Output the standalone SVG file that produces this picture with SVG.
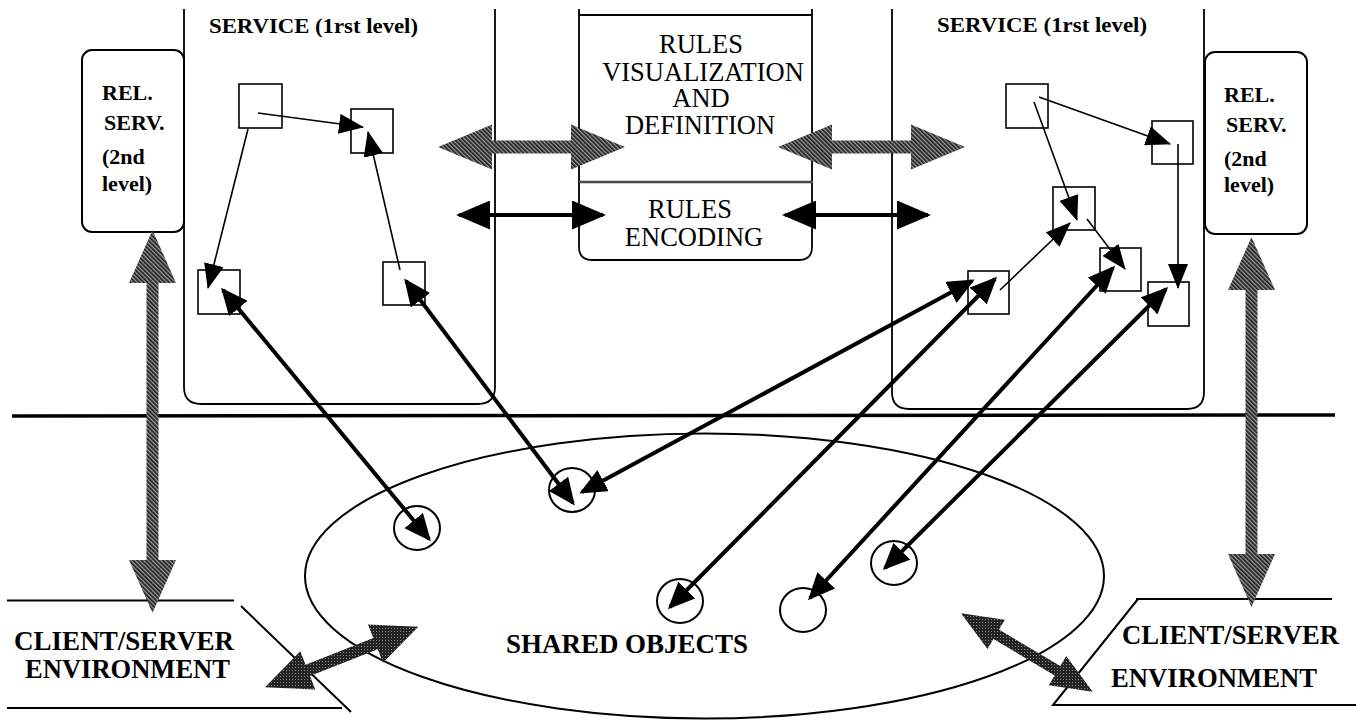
<svg xmlns="http://www.w3.org/2000/svg" width="1356" height="723" viewBox="0 0 1356 723">
  <defs>
    <style>
      .box { fill: none; stroke: #000; stroke-width: 1.8; }
      .rel { fill: #fff; stroke: #000; stroke-width: 2; }
      .sq { fill: #fff; stroke: #000; stroke-width: 1.6; }
      .obj { fill: none; stroke: #000; stroke-width: 2; }
      .rule { fill: none; stroke: #000; stroke-width: 2; }
      .thin { fill: none; stroke: #000; stroke-width: 1.6; marker-end: url(#ahS); }
      .thick { fill: none; stroke: #000; stroke-width: 4; marker-start: url(#ahL); marker-end: url(#ahL); }
      .mid { fill: none; stroke: #000; stroke-width: 4; marker-start: url(#ahM); marker-end: url(#ahM); }
      .gray { fill: url(#hatch); stroke: none; }
      .dark { fill: url(#hatchDark); stroke: none; }
      .bold { font-family: "Liberation Serif", "Times New Roman", serif; font-weight: bold; fill: #000; }
      .reg { font-family: "Liberation Serif", "Times New Roman", serif; fill: #000; }
    </style>
    <pattern id="hatch" width="3" height="3" patternUnits="userSpaceOnUse" patternTransform="rotate(-45)">
      <rect width="3" height="3" fill="#9c9c9c"/>
      <rect width="1.7" height="3" fill="#1e1e1e"/>
    </pattern>
    <pattern id="hatchDark" width="3" height="3" patternUnits="userSpaceOnUse">
      <rect width="3" height="3" fill="#232323"/>
      <rect x="1" y="1" width="1" height="1" fill="#8a8a8a"/>
    </pattern>
    <marker id="ahS" viewBox="0 -10 25 20" refX="24" refY="0" markerWidth="25" markerHeight="20" markerUnits="userSpaceOnUse" orient="auto">
      <path d="M0,-10 L25,0 L0,10 z" fill="#000"/>
    </marker>
    <marker id="ahL" viewBox="0 -12 27 24" refX="24" refY="0" markerWidth="27" markerHeight="24" markerUnits="userSpaceOnUse" orient="auto-start-reverse">
      <path d="M0,-12 L27,0 L0,12 z" fill="#000"/>
    </marker>
    <marker id="ahM" viewBox="0 -14.5 34 29" refX="31" refY="0" markerWidth="34" markerHeight="29" markerUnits="userSpaceOnUse" orient="auto-start-reverse">
      <path d="M0,-14.5 L34,0 L0,14.5 z" fill="#000"/>
    </marker>
  </defs>

  <rect width="1356" height="723" fill="#fff"/>

  <!-- first-level service, left -->
  <g id="service-left">
    <path class="box" d="M184,9 V387 Q184,404 201,404 H478 Q495,404 495,387 V9"/>
    <text class="bold" x="209" y="33" font-size="22" textLength="209" lengthAdjust="spacingAndGlyphs">SERVICE (1rst level)</text>
  </g>

  <!-- first-level service, right -->
  <g id="service-right">
    <path class="box" d="M892,9 V392 Q892,409 909,409 H1187 Q1204,409 1204,392 V9"/>
    <text class="bold" x="937" y="32" font-size="22" textLength="210" lengthAdjust="spacingAndGlyphs">SERVICE (1rst level)</text>
  </g>

  <!-- rules box -->
  <g id="rules">
    <path class="box" d="M579,9 V247 Q579,260 592,260 H799 Q812,260 812,247 V9"/>
    <line x1="579" y1="15" x2="812" y2="15" stroke="#000" stroke-width="1.8"/>
    <line x1="579" y1="182" x2="813" y2="182" stroke="#4a4a4a" stroke-width="2.6"/>
    <g class="reg" font-size="26.5" text-anchor="middle">
      <text x="701" y="53">RULES</text>
      <text x="703" y="81">VISUALIZATION</text>
      <text x="701" y="107">AND</text>
      <text x="700" y="134">DEFINITION</text>
      <text x="690" y="218">RULES</text>
      <text x="694" y="246">ENCODING</text>
    </g>
  </g>

  <!-- second-level related services -->
  <g id="rel-left">
    <rect class="rel" x="82" y="50" width="102" height="182" rx="10"/>
    <g class="bold" font-size="22">
      <text x="102" y="100">REL.</text>
      <text x="104" y="130">SERV.</text>
      <text x="102" y="164">(2nd</text>
      <text x="102" y="191">level)</text>
    </g>
  </g>
  <g id="rel-right">
    <rect class="rel" x="1205" y="52" width="102" height="182" rx="10"/>
    <g class="bold" font-size="22">
      <text x="1224" y="102">REL.</text>
      <text x="1226" y="132">SERV.</text>
      <text x="1224" y="166">(2nd</text>
      <text x="1224" y="192">level)</text>
    </g>
  </g>

  <!-- service components, left -->
  <g id="comp-a"><rect class="sq" x="239" y="84" width="43" height="44"/></g>
  <g id="comp-b"><rect class="sq" x="351" y="109" width="42" height="44"/></g>
  <g id="comp-c"><rect class="sq" x="198" y="270" width="42" height="44"/></g>
  <g id="comp-d"><rect class="sq" x="383" y="262" width="42" height="43"/></g>

  <!-- service components, right -->
  <g id="comp-e"><rect class="sq" x="1006" y="84" width="42" height="44"/></g>
  <g id="comp-f"><rect class="sq" x="1152" y="121" width="41" height="43"/></g>
  <g id="comp-g"><rect class="sq" x="1053" y="187" width="42" height="43"/></g>
  <g id="comp-h"><rect class="sq" x="1100" y="248" width="41" height="43"/></g>
  <g id="comp-i"><rect class="sq" x="968" y="271" width="41" height="43"/></g>
  <g id="comp-j"><rect class="sq" x="1148" y="282" width="41" height="44"/></g>

  <!-- boundary between services and the shared space -->
  <g id="boundary">
    <line x1="12" y1="416" x2="1335" y2="415" stroke="#000" stroke-width="3.5"/>
  </g>

  <!-- shared objects space -->
  <g id="shared-objects">
    <ellipse class="obj" cx="704.5" cy="576" rx="399.5" ry="142.5"/>
    <text class="bold" x="506" y="653" font-size="27" textLength="242" lengthAdjust="spacingAndGlyphs">SHARED OBJECTS</text>
  </g>
  <g id="obj-1"><ellipse class="obj" cx="417" cy="528" rx="23" ry="22"/></g>
  <g id="obj-2"><ellipse class="obj" cx="572" cy="490" rx="23" ry="22"/></g>
  <g id="obj-3"><ellipse class="obj" cx="680" cy="601" rx="23" ry="22"/></g>
  <g id="obj-4"><ellipse class="obj" cx="803" cy="610" rx="23" ry="22"/></g>
  <g id="obj-5"><ellipse class="obj" cx="894" cy="563" rx="23" ry="22"/></g>

  <!-- client/server environments -->
  <g id="env-left">
    <path class="rule" d="M7,600.5 H234 M7,708 H342 M241,606 L351,712"/>
    <text class="bold" x="14" y="650" font-size="28" textLength="220" lengthAdjust="spacingAndGlyphs">CLIENT/SERVER</text>
    <text class="bold" x="25" y="678" font-size="28" textLength="205" lengthAdjust="spacingAndGlyphs">ENVIRONMENT</text>
  </g>
  <g id="env-right">
    <path class="rule" d="M1136,599 H1332 M1138,599 L1053,705 H1356"/>
    <text class="bold" x="1122" y="644" font-size="27" textLength="217" lengthAdjust="spacingAndGlyphs">CLIENT/SERVER</text>
    <text class="bold" x="1111" y="687" font-size="27" textLength="206" lengthAdjust="spacingAndGlyphs">ENVIRONMENT</text>
  </g>

  <!-- connectors -->
  <g id="connectors">
    <!-- links between components inside a service -->
    <line class="thin" x1="258" y1="113" x2="363" y2="127"/>
    <line class="thin" x1="248" y1="129" x2="208" y2="288"/>
    <line class="thin" x1="400" y1="270" x2="368" y2="132"/>
    <line class="thin" x1="1039" y1="97" x2="1170" y2="144"/>
    <line class="thin" x1="1034" y1="102" x2="1077" y2="220"/>
    <line class="thin" x1="1178" y1="144" x2="1178" y2="288"/>
    <line class="thin" x1="1087" y1="219" x2="1125" y2="269"/>
    <line class="thin" x1="1000" y1="290" x2="1070" y2="223"/>

    <!-- components to shared objects -->
    <line class="thick" x1="223" y1="290" x2="429" y2="539"/>
    <line class="thick" x1="406" y1="281" x2="573" y2="503"/>
    <line class="thick" x1="972" y1="281" x2="582" y2="492"/>
    <line class="thick" x1="995" y1="279" x2="670" y2="607"/>
    <line class="thick" x1="1113" y1="268" x2="810" y2="598"/>
    <line class="thick" x1="1166" y1="289" x2="885" y2="568"/>

    <!-- services to rules -->
    <polygon class="gray" points="438,147 492,124.5 492,140.5 571,140.5 571,124.5 625,147 571,169.5 571,153.5 492,153.5 492,169.5"/>
    <polygon class="gray" points="778,147 832,124.5 832,140.5 911,140.5 911,124.5 965,147 911,169.5 911,153.5 832,153.5 832,169.5"/>
    <line class="mid" x1="459" y1="215" x2="603" y2="215"/>
    <line class="mid" x1="785" y1="215" x2="928" y2="215"/>

    <!-- related services to client/server environment -->
    <polygon class="gray" points="152.5,230 176,283 158.5,283 158.5,560 176,560 152.5,613 129,560 146.5,560 146.5,283 129,283"/>
    <polygon class="gray" points="1251.5,237 1275,290 1257.5,290 1257.5,554 1275,554 1251.5,607 1228,554 1245.5,554 1245.5,290 1228,290"/>

    <!-- shared objects to client/server environment -->
    <polygon class="dark" points="265,687.3 300.3,651.3 305.6,664.8 373.3,638 368,624.5 418.3,626.7 383,662.7 377.7,649.2 310,676 315.3,689.5"/>
    <polygon class="dark" points="961,613.3 1004.9,619.7 999,629.6 1060.3,666 1066.2,656.1 1092.7,691.7 1048.8,685.3 1054.7,675.4 993.4,639 987.5,648.9"/>
  </g>
</svg>
